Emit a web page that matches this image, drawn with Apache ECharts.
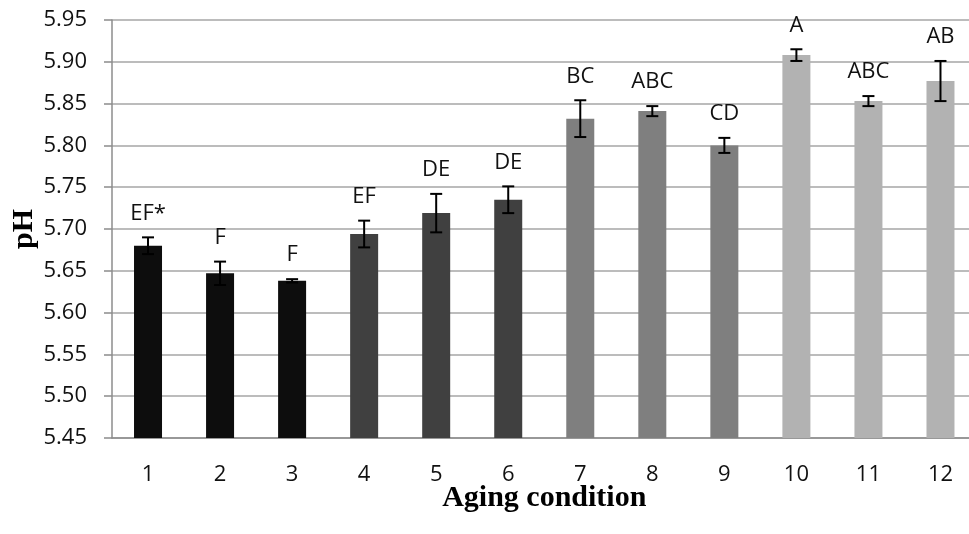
<!DOCTYPE html>
<html>
<head>
<meta charset="utf-8">
<script src="https://cdn.jsdelivr.net/npm/echarts@6/dist/echarts.min.js"></script>
<style>
html,body{margin:0;padding:0;background:#fff;}
#chart{width:969px;height:534px;}
</style>
</head>
<body>
<div id="chart"></div>
<script>
// ---- data ----
var categories = ['1','2','3','4','5','6','7','8','9','10','11','12'];
var phValues   = [5.680, 5.647, 5.638, 5.694, 5.719, 5.735, 5.832, 5.841, 5.800, 5.908, 5.853, 5.877];
var phErrors   = [0.010, 0.014, 0.002, 0.016, 0.023, 0.016, 0.022, 0.006, 0.009, 0.007, 0.006, 0.024];
var letters    = ['EF*','F','F','EF','DE','DE','BC','ABC','CD','A','ABC','AB'];
var groupOf    = [0,0,0,1,1,1,2,2,2,3,3,3];
var yTicks     = [5.45, 5.95, 0.05]; // min, max, step

// ---- styles ----
var groupColors = ['#0d0d0d', '#404040', '#7f7f7f', '#b2b2b2'];
var sansFont = '"Open Sans", "DejaVu Sans", sans-serif';
var serifFont = '"Liberation Serif", "DejaVu Serif", serif';

var barData = phValues.map(function (v, i) {
  return { value: v, itemStyle: { color: groupColors[groupOf[i]] } };
});
var errData = phValues.map(function (v, i) {
  return [i, v, phErrors[i], letters[i]];
});

var chart = echarts.init(document.getElementById('chart'), null, { renderer: 'canvas' });
chart.setOption({
  animation: false,
  backgroundColor: '#ffffff',
  grid: { left: 112, top: 20, width: 864.5, height: 418, containLabel: false, outerBoundsMode: 'none' },
  xAxis: {
    type: 'category',
    data: categories,
    axisLine: { show: true, lineStyle: { color: '#8c8c8c', width: 1.5 } },
    axisTick: { show: false },
    axisLabel: { color: '#111', fontFamily: sansFont, fontSize: 22, margin: 26 },
    name: 'Aging condition',
    nameLocation: 'middle',
    nameGap: 45,
    nameMoveOverlap: false,
    nameTextStyle: { fontFamily: serifFont, fontWeight: 'bold', fontSize: 30, color: '#000' }
  },
  yAxis: {
    type: 'value',
    min: yTicks[0], max: yTicks[1], interval: yTicks[2],
    axisLine: { show: true, lineStyle: { color: '#8c8c8c', width: 1.5 } },
    axisTick: { show: true, length: 8, lineStyle: { color: '#8c8c8c', width: 1.5 } },
    splitLine: { show: true, lineStyle: { color: '#a6a6a6', width: 1.5 } },
    axisLabel: {
      color: '#111', fontFamily: sansFont, fontSize: 22, margin: 25,
      formatter: function (v) { return v.toFixed(2); }
    },
    name: 'pH',
    nameLocation: 'middle',
    nameGap: 73,
    nameMoveOverlap: false,
    nameRotate: 90,
    nameTextStyle: { fontFamily: serifFont, fontWeight: 'bold', fontSize: 30, color: '#000' }
  },
  series: [
    {
      type: 'bar',
      data: barData,
      barWidth: 28,
      z: 2
    },
    {
      type: 'custom',
      data: errData,
      z: 5,
      renderItem: function (params, api) {
        var i = api.value(0), v = api.value(1), e = api.value(2);
        var top = api.coord([i, v + e]);
        var bot = api.coord([i, v - e]);
        var x = top[0], cap = 6;
        var style = { stroke: '#000', lineWidth: 2 };
        return {
          type: 'group',
          children: [
            { type: 'line', shape: { x1: x, y1: top[1], x2: x, y2: bot[1] }, style: style },
            { type: 'line', shape: { x1: x - cap, y1: top[1], x2: x + cap, y2: top[1] }, style: style },
            { type: 'line', shape: { x1: x - cap, y1: bot[1], x2: x + cap, y2: bot[1] }, style: style },
            { type: 'text', x: x, y: top[1] - 24,
              style: { text: letters[params.dataIndex], fill: '#111', font: '22px ' + sansFont,
                       textAlign: 'center', textVerticalAlign: 'middle' } }
          ]
        };
      }
    }
  ]
});
</script>
</body>
</html>
